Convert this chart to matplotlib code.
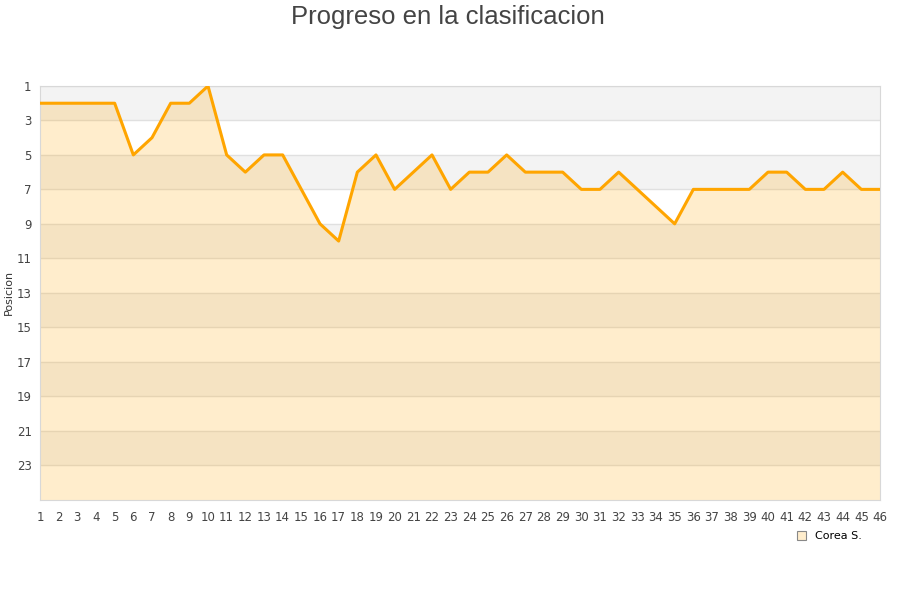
import matplotlib
matplotlib.use("Agg")
import matplotlib.pyplot as plt
from matplotlib.patches import Patch

# data
jornadas = list(range(1, 47))
posicion = [2, 2, 2, 2, 2, 5, 4, 2, 2, 1,
            5, 6, 5, 5, 7, 9, 10, 6, 5, 7,
            6, 5, 7, 6, 6, 5, 6, 6, 6, 7,
            7, 6, 7, 8, 9, 7, 7, 7, 7, 6,
            6, 7, 7, 6, 7, 7]
equipo = "Corea S."
y_ticks = list(range(1, 24, 2))

fig = plt.figure(figsize=(9, 6), dpi=100)
ax = fig.add_axes([40 / 900, 100.5 / 600, 840 / 900, 413.5 / 600])

# alternating background bands
for i, lo in enumerate(range(1, 25, 2)):
    color = "#f3f3f3" if i % 2 == 0 else "#ffffff"
    ax.axhspan(lo, lo + 2, color=color, zorder=0, lw=0)
for t in y_ticks:
    ax.axhline(t, color="#e0e0e0", lw=1, zorder=1)

ax.fill_between(jornadas, posicion, 25, color="#FFA500", alpha=0.2, lw=0, zorder=2)
ax.plot(jornadas, posicion, color="#FFA500", lw=2.2, zorder=3)

ax.set_xlim(1, 46)
ax.set_ylim(25, 1)
ax.set_xticks(jornadas)
ax.set_yticks(y_ticks)
ax.tick_params(length=0, labelsize=8.5, colors="#444444", pad=8)
ax.tick_params(axis="y", pad=6)
for s in ax.spines.values():
    s.set_color("#d8d8d8")

ax.set_ylabel("Posicion", fontsize=8, color="#333333")
ax.yaxis.set_label_coords(-0.031, 0.5)
fig.text(0.498, 0.972, "Progreso en la clasificacion", ha="center", va="center",
         fontsize=18.5, color="#444444", family="Liberation Sans")

handle = Patch(facecolor="#ffedcc", edgecolor="#888888", lw=0.8)
fig.legend([handle], [equipo], loc="center", bbox_to_anchor=(0.922, 0.106),
           frameon=False, fontsize=8, handlelength=0.8, handleheight=0.8,
           handletextpad=0.8)

plt.savefig("out.png", dpi=100)
